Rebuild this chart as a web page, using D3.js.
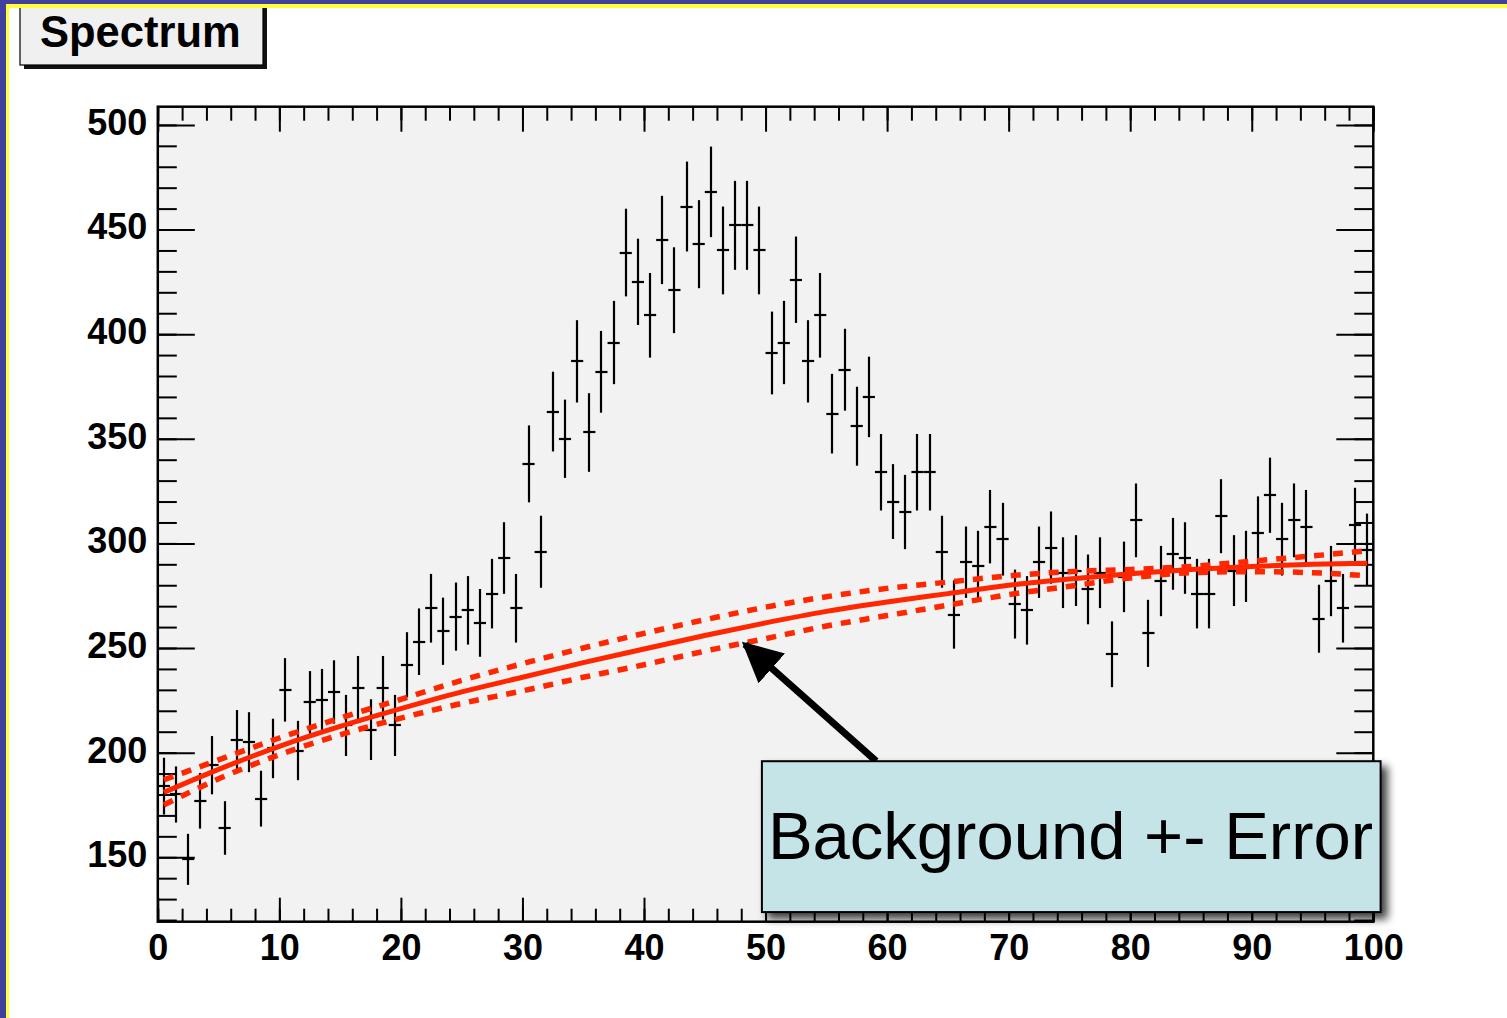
<!DOCTYPE html>
<html>
<head>
<meta charset="utf-8">
<script src="https://cdn.jsdelivr.net/npm/d3@7"></script>
<style>
  html, body { margin: 0; padding: 0; background: #fff; }
  svg { display: block; }
</style>
</head>
<body>
<svg id="chart" width="1507" height="1018"></svg>
<script>
// histogram contents, one count per bin (bins of width 1 from 0 to 100)
const binCounts = [
  184, 180, 149, 177, 194, 164, 206, 205, 178, 202,
  230, 201, 224, 225, 229, 213, 231, 211, 231, 213,
  242, 253, 269, 258, 265, 268, 262, 276, 293, 269,
  338, 296, 363, 350, 387, 353, 382, 396, 439, 425,
  409, 445, 421, 461, 443, 468, 440, 452, 452, 440,
  391, 396, 426, 387, 409, 362, 383, 356, 370, 334,
  320, 315, 334, 334, 296, 266, 291, 289, 308, 302,
  271, 268, 291, 298, 286, 287, 278, 286, 247, 284,
  311, 257, 282, 295, 293, 276, 276, 313, 287, 289,
  305, 323, 302, 311, 308, 264, 282, 269, 309, 297
];
const binStart = 0;
const binWidth = 1;

// background fit and its +- error band, read at these x values
const bgX      = [0.5, 5, 10, 15, 20, 25, 30, 35, 40, 45, 50, 55, 60, 65, 70, 75, 80, 85, 90, 95, 99.5];
const bgCenter = [181, 192, 203, 212.5, 221, 229, 236, 243, 249.5, 256, 262, 267.5, 272, 276, 280, 283, 285.5, 287.5, 289, 290, 290.5];
const bgUpper  = [187, 196.5, 207, 216.5, 225.5, 234.5, 242.5, 250, 257, 263.5, 269.5, 274.5, 278.5, 281.5, 284.5, 286.5, 287.5, 289, 291.5, 294, 296.5];
const bgLower  = [175, 187.5, 199, 208.5, 216.5, 223.5, 229.5, 236, 242, 248.5, 254.5, 260.5, 265.5, 270.5, 275.5, 279.5, 283.5, 286, 286.5, 286, 284.5];

// tick labels
const xTickLabels = [0, 10, 20, 30, 40, 50, 60, 70, 80, 90, 100];
const yTickLabels = [150, 200, 250, 300, 350, 400, 450, 500];

// annotation (in data coords)
const noteText = 'Background +- Error';
const noteBox = { x0: 49.7, x1: 100.6, yTop: 195.9, yBottom: 123.8 };
const arrowFrom = { x: 59.1, y: 195.9 };
const arrowTo   = { x: 48.3, y: 251.7 };

const svg = d3.select('#chart');
const W = 1507, H = 1018;
const font = '"Liberation Sans", Arial, Helvetica, sans-serif';
const red = '#ff2600';

// frame in pixels
const frame = { left: 157.8, right: 1373.3, top: 106.7, bottom: 921.7 };

const x = d3.scaleLinear().domain([0, 100]).range([frame.left, frame.right]);
const y = d3.scaleLinear().domain([119.2, 508.7]).range([frame.bottom, frame.top]);

// defs: drop shadow for the note box + arrow head
const defs = svg.append('defs');
const shadow = defs.append('filter').attr('id', 'shadow')
  .attr('x', '-10%').attr('y', '-10%').attr('width', '130%').attr('height', '140%');
shadow.append('feDropShadow')
  .attr('dx', 6).attr('dy', 6).attr('stdDeviation', 4)
  .attr('flood-color', '#000').attr('flood-opacity', 0.75);
defs.append('marker').attr('id', 'head')
  .attr('viewBox', '0 0 10 10').attr('refX', 9).attr('refY', 5)
  .attr('markerUnits', 'userSpaceOnUse')
  .attr('markerWidth', 40).attr('markerHeight', 40)
  .attr('orient', 'auto')
  .append('path').attr('d', 'M0,0 L10,5 L0,10 z').attr('fill', '#000');

svg.append('rect').attr('width', W).attr('height', H).attr('fill', '#fff');

// title box "Spectrum"
svg.append('rect').attr('x', 24).attr('y', -4).attr('width', 243).attr('height', 73).attr('fill', '#111');
svg.append('rect').attr('x', 20).attr('y', -8).attr('width', 243).attr('height', 73)
  .attr('fill', '#f0f0f0').attr('stroke', '#000').attr('stroke-width', 1.2);
svg.append('text')
  .attr('x', 40).attr('y', 47)
  .attr('font-family', font).attr('font-weight', 'bold').attr('font-size', 43.5)
  .text('Spectrum');

// page border (blue / yellow)
svg.append('rect').attr('x', 0).attr('y', 0).attr('width', W).attr('height', 4).attr('fill', '#3f3f9e');
svg.append('rect').attr('x', 0).attr('y', 0).attr('width', 6).attr('height', H).attr('fill', '#3f3f9e');
svg.append('rect').attr('x', 6).attr('y', 4).attr('width', W).attr('height', 4).attr('fill', '#ffff3a');
svg.append('rect').attr('x', 6).attr('y', 4).attr('width', 3).attr('height', H).attr('fill', '#ffff3a');

// plot area
svg.append('rect')
  .attr('x', frame.left).attr('y', frame.top)
  .attr('width', frame.right - frame.left).attr('height', frame.bottom - frame.top)
  .attr('fill', '#f2f2f2');

const g = svg.append('g');

// axes - ROOT style, ticks point inwards
const yMinor = d3.range(120, 509, 10);
const xMinor = d3.range(0, 101, 2);

function styleAxis(sel) {
  sel.select('.domain').remove();
  sel.selectAll('line').attr('stroke', '#000').attr('stroke-width', 2);
}

g.append('g').attr('transform', `translate(${frame.left},0)`)
  .call(d3.axisLeft(y).tickValues(yMinor).tickSize(-19).tickFormat(''))
  .call(styleAxis);
g.append('g').attr('transform', `translate(${frame.left},0)`)
  .call(d3.axisLeft(y).tickValues(yTickLabels).tickSize(-37).tickPadding(10.5))
  .call(styleAxis)
  .selectAll('text')
    .attr('font-family', font).attr('font-weight', 'bold').attr('font-size', 36)
    .attr('fill', '#000').attr('dy', '0.26em');

g.append('g').attr('transform', `translate(${frame.right},0)`)
  .call(d3.axisRight(y).tickValues(yMinor).tickSize(-19).tickFormat(''))
  .call(styleAxis);
g.append('g').attr('transform', `translate(${frame.right},0)`)
  .call(d3.axisRight(y).tickValues(yTickLabels).tickSize(-37).tickFormat(''))
  .call(styleAxis);

g.append('g').attr('transform', `translate(0,${frame.bottom})`)
  .call(d3.axisBottom(x).tickValues(xMinor).tickSize(-13).tickFormat(''))
  .call(styleAxis);
g.append('g').attr('transform', `translate(0,${frame.bottom})`)
  .call(d3.axisBottom(x).tickValues(xTickLabels).tickSize(-24).tickPadding(12.7))
  .call(styleAxis)
  .selectAll('text')
    .attr('font-family', font).attr('font-weight', 'bold').attr('font-size', 36)
    .attr('fill', '#000').attr('dy', '0.71em');

g.append('g').attr('transform', `translate(0,${frame.top})`)
  .call(d3.axisTop(x).tickValues(xMinor).tickSize(-14).tickFormat(''))
  .call(styleAxis);
g.append('g').attr('transform', `translate(0,${frame.top})`)
  .call(d3.axisTop(x).tickValues(xTickLabels).tickSize(-25).tickFormat(''))
  .call(styleAxis);

// data points w/ errors (Poisson errors, sqrt(N) like ROOT draws them)
const bins = binCounts.map((c, i) => ({
  lo: binStart + i * binWidth,
  hi: binStart + (i + 1) * binWidth,
  c: c,
  err: Math.sqrt(c)
}));

// snap to whole pixels so the 2px bars stay crisp black
const px = v => Math.round(v);

const pts = g.append('g').attr('stroke', '#000').attr('stroke-width', 2.2);
pts.selectAll('.ev').data(bins).enter().append('line')
  .attr('class', 'ev')
  .attr('x1', d => px(x((d.lo + d.hi) / 2))).attr('x2', d => px(x((d.lo + d.hi) / 2)))
  .attr('y1', d => y(d.c - d.err)).attr('y2', d => y(d.c + d.err));
pts.selectAll('.eh').data(bins).enter().append('line')
  .attr('class', 'eh')
  .attr('x1', d => x(d.lo)).attr('x2', d => x(d.hi))
  .attr('y1', d => px(y(d.c))).attr('y2', d => px(y(d.c)));

// background fit + error band
const bgLine = vals => d3.line()
  .x((d, i) => x(bgX[i]))
  .y(d => y(d))
  .curve(d3.curveMonotoneX)(vals);

g.append('path').attr('d', bgLine(bgUpper))
  .attr('fill', 'none').attr('stroke', red).attr('stroke-width', 5.5)
  .attr('stroke-dasharray', '10,9');
g.append('path').attr('d', bgLine(bgLower))
  .attr('fill', 'none').attr('stroke', red).attr('stroke-width', 5.5)
  .attr('stroke-dasharray', '10,9');
g.append('path').attr('d', bgLine(bgCenter))
  .attr('fill', 'none').attr('stroke', red).attr('stroke-width', 5);

// frame on top
svg.append('rect')
  .attr('x', frame.left).attr('y', frame.top)
  .attr('width', frame.right - frame.left).attr('height', frame.bottom - frame.top)
  .attr('fill', 'none').attr('stroke', '#000').attr('stroke-width', 2.5);

// arrow
svg.append('line')
  .attr('x1', x(arrowFrom.x)).attr('y1', y(arrowFrom.y))
  .attr('x2', x(arrowTo.x)).attr('y2', y(arrowTo.y))
  .attr('stroke', '#000').attr('stroke-width', 7)
  .attr('marker-end', 'url(#head)');

// note box
svg.append('rect')
  .attr('x', x(noteBox.x0)).attr('y', y(noteBox.yTop))
  .attr('width', x(noteBox.x1) - x(noteBox.x0))
  .attr('height', y(noteBox.yBottom) - y(noteBox.yTop))
  .attr('fill', '#c5e4e8').attr('stroke', '#000').attr('stroke-width', 2)
  .attr('filter', 'url(#shadow)');
svg.append('text')
  .attr('x', x(noteBox.x0) + 6)
  .attr('y', y(noteBox.yTop) + 98)
  .attr('font-family', font).attr('font-size', 67)
  .attr('fill', '#000')
  .text(noteText);
</script>
</body>
</html>
